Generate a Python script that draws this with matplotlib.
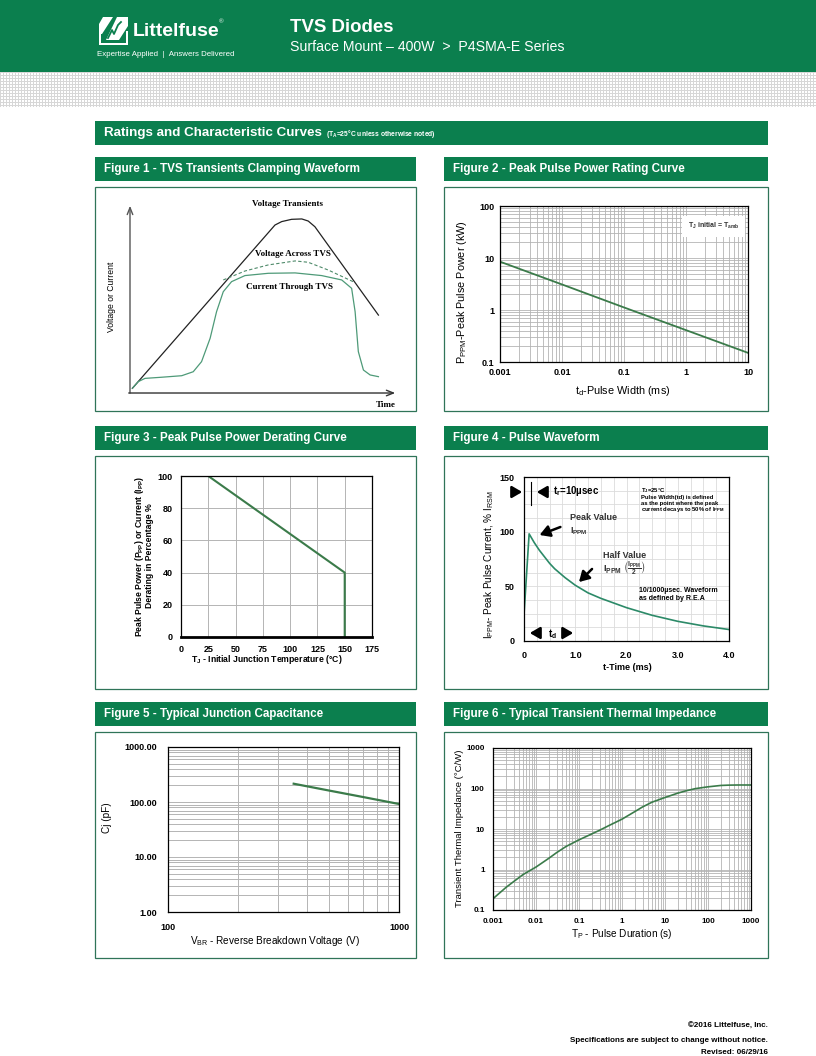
import numpy as np
import matplotlib
matplotlib.use('Agg')
import matplotlib.pyplot as plt
from matplotlib import font_manager
from matplotlib.patches import Rectangle, Polygon
from matplotlib.ticker import LogLocator, NullFormatter, FixedLocator, MultipleLocator, FixedFormatter

# ---------------- data ----------------
# Figure 1 - schematic waveform (arbitrary units: time 0..10, level 0..10)
f1_vt_t = [0.09, 5.41, 5.66, 6.03, 6.41, 6.65, 6.90, 9.27]
f1_vt_v = [0.25, 8.84, 9.02, 9.14, 9.16, 9.05, 8.75, 4.10]
f1_va_t = [3.48, 4.29, 5.16, 6.16, 6.65, 7.40, 8.40]
f1_va_v = [5.95, 6.42, 6.74, 6.95, 6.88, 6.47, 5.81]
f1_ct_t = [0.09, 0.31, 0.56, 1.18, 1.93, 2.36, 2.67, 2.99, 3.23, 3.48, 3.79, 4.29, 5.16,
           6.16, 7.15, 7.90, 8.27, 8.40, 8.52, 8.71, 8.96, 9.27]
f1_ct_v = [0.25, 0.60, 0.77, 0.83, 0.91, 1.12, 1.65, 2.88, 4.28, 5.33, 5.86, 6.18, 6.30,
           6.32, 6.18, 5.95, 5.51, 4.28, 2.18, 1.21, 0.95, 0.86]

# Figure 2 - peak pulse power vs pulse width
f2_width_ms = [0.001, 0.01, 0.1, 1, 10]
f2_power_kw = [8.5, 3.1, 1.12, 0.41, 0.15]
f2_xticks = [0.001, 0.01, 0.1, 1, 10]
f2_xlabels = ['0.001', '0.01', '0.1', '1', '10']
f2_yticks = [0.1, 1, 10, 100]
f2_ylabels = ['0.1', '1', '10', '100']

# Figure 3 - derating curve
f3_temp = [0, 25, 150, 150]
f3_pct = [100, 100, 40, 0]
f3_xticks = [0, 25, 50, 75, 100, 125, 150, 175]
f3_yticks = [0, 20, 40, 60, 80, 100]

# Figure 4 - pulse waveform
f4_t = [0, 0.1, 0.2, 0.3, 0.4, 0.5, 0.6, 0.8, 1.0, 1.25, 1.5, 2.0, 2.5, 3.0, 3.5, 4.0]
f4_i = [24, 98, 90, 83, 77, 71, 66, 58, 51, 44, 39, 30.5, 23.5, 18, 13.8, 10.5]
f4_xticks = [0, 1.0, 2.0, 3.0, 4.0]
f4_xlabels = ['0', '1.0', '2.0', '3.0', '4.0']
f4_yticks = [0, 50, 100, 150]

# Figure 5 - junction capacitance
f5_vbr = [350, 500, 700, 1000]
f5_cj = [215, 161, 123, 92]
f5_yticks = [1, 10, 100, 1000]
f5_ylabels = ['1.00', '10.00', '100.00', '1000.00']
f5_xticks = [100, 1000]
f5_xlabels = ['100', '1000']

# Figure 6 - transient thermal impedance
f6_tp = [0.001, 0.002, 0.003, 0.005, 0.01, 0.02, 0.03, 0.05, 0.1, 0.2, 0.3, 0.5, 1, 2, 3, 5,
         10, 20, 30, 50, 100, 200, 300, 500, 1000]
f6_z = [0.19, 0.36, 0.5, 0.75, 1.15, 1.9, 2.6, 3.7, 5.4, 7.6, 9.3, 12.2, 17.5, 27, 35, 46,
        60, 77, 87, 99, 110, 119, 121, 122, 122]
f6_xticks = [0.001, 0.01, 0.1, 1, 10, 100, 1000]
f6_xlabels = ['0.001', '0.01', '0.1', '1', '10', '100', '1000']
f6_yticks = [0.1, 1, 10, 100, 1000]
f6_ylabels = ['0.1', '1', '10', '100', '1000']

# ---------------- style ----------------
names = {f.name for f in font_manager.fontManager.ttflist}
SANS = 'Liberation Sans' if 'Liberation Sans' in names else 'DejaVu Sans'
SERIF = 'Liberation Serif' if 'Liberation Serif' in names else 'DejaVu Serif'
plt.rcParams['font.family'] = [SANS, 'DejaVu Sans']
plt.rcParams['mathtext.default'] = 'regular'

GREEN = '#0b7f4e'
BORDER = '#2f7458'
CURVE = '#3b7b4a'
GRID = '#b4b4b4'

W, H = 816, 1056
fig = plt.figure(figsize=(8.16, 10.56), dpi=100)


def px_axes(x0, y0, x1, y1, **kw):
    return fig.add_axes([x0 / W, 1 - y1 / H, (x1 - x0) / W, (y1 - y0) / H], **kw)


bg = px_axes(0, 0, W, H)
bg.set_xlim(0, W)
bg.set_ylim(H, 0)
bg.axis('off')

# header
bg.add_patch(Rectangle((0, 0), W, 72, color=GREEN, lw=0))
yy, xx = np.mgrid[0:35, 0:W]
pattern = np.where((yy % 3 == 0) | (xx % 3 == 0), 0.84, 1.0)
bg.imshow(pattern, cmap='gray', vmin=0, vmax=1, extent=[0, W, 107, 72],
          interpolation='nearest', aspect='auto')
# logo icon (white)
bg.add_patch(Polygon([(99, 45), (99, 27), (101, 27), (101, 43), (126, 43), (126, 31), (128, 31), (128, 45)],
                     closed=True, color='white', lw=0))
bg.add_patch(Polygon([(103, 17), (113, 17), (102, 34), (99, 34), (99, 24)], closed=True, color='white', lw=0))
bg.add_patch(Polygon([(117, 17), (128, 17), (128, 26), (119, 40), (106, 40)], closed=True, color='white', lw=0))
bg.plot([108, 112, 114, 118, 121], [38, 30, 34, 25, 22], color=GREEN, lw=1.3)

# section bars and boxes
bg.add_patch(Rectangle((95, 121), 673, 24, color=GREEN, lw=0))
for (x0, y0) in [(95, 157), (444, 157), (95, 426), (444, 426), (95, 702), (444, 702)]:
    bg.add_patch(Rectangle((x0, y0), 324 if x0 == 444 else 321, 24, color=GREEN, lw=0))
for (x0, y0, h) in [(95, 187, 224), (444, 187, 224), (95, 456, 233), (444, 456, 233),
                    (95, 732, 226), (444, 732, 226)]:
    bg.add_patch(Rectangle((x0, y0), 324 if x0 == 444 else 321, h, fill=False, ec=BORDER, lw=0.9))


def style_ticks(ax, size=6.5, pad=3):
    ax.tick_params(which='both', length=0, labelsize=size, pad=pad)
    for lab in ax.get_xticklabels() + ax.get_yticklabels():
        lab.set_fontweight('bold')
    for s in ax.spines.values():
        s.set_color('black')
        s.set_linewidth(0.9)


# ---------------- Figure 1 ----------------
ax1 = px_axes(120, 195, 400, 400)
ax1.set_xlim(-0.373, 10.075)
ax1.set_ylim(-0.368, 10.42)
ax1.axis('off')
ax1.annotate('', xy=(0, 10.0), xytext=(0, -0.15),
             arrowprops=dict(arrowstyle='->,head_width=0.2,head_length=0.5', color='#555555', lw=1.0))
ax1.annotate('', xy=(10.0, 0), xytext=(-0.15, 0),
             arrowprops=dict(arrowstyle='->,head_width=0.2,head_length=0.5', color='#333333', lw=1.0))
ax1.plot(f1_vt_t, f1_vt_v, color='#222222', lw=0.9)
ax1.plot(f1_va_t, f1_va_v, color='#4e8a6a', lw=0.8, ls=(0, (3, 2)))
ax1.plot(f1_ct_t, f1_ct_v, color='#4e9a78', lw=0.9)

# ---------------- Figure 2 ----------------
ax2 = px_axes(500, 206, 748, 362)
ax2.set_xscale('log')
ax2.set_yscale('log')
ax2.set_xlim(0.001, 10)
ax2.set_ylim(0.1, 100)
ax2.xaxis.set_minor_locator(LogLocator(base=10, subs=np.arange(2, 10)))
ax2.yaxis.set_minor_locator(LogLocator(base=10, subs=np.arange(2, 10)))
ax2.xaxis.set_minor_formatter(NullFormatter())
ax2.yaxis.set_minor_formatter(NullFormatter())
ax2.xaxis.set_major_locator(FixedLocator(f2_xticks))
ax2.xaxis.set_major_formatter(FixedFormatter(f2_xlabels))
ax2.yaxis.set_major_locator(FixedLocator(f2_yticks))
ax2.yaxis.set_major_formatter(FixedFormatter(f2_ylabels))
ax2.grid(which='both', color=GRID, lw=0.6)
ax2.set_axisbelow(True)
ax2.plot(f2_width_ms, f2_power_kw, color=CURVE, lw=1.3)
style_ticks(ax2, 6.5, 4)
ax2.text(0.965, 0.87, r'T$_J$ initial = T$_{amb}$', transform=ax2.transAxes, ha='right', va='center',
         fontsize=5.0, fontweight='bold', color='#333333',
         bbox=dict(facecolor='white', edgecolor='none', pad=4))

# ---------------- Figure 3 ----------------
ax3 = px_axes(181, 476, 372, 637)
ax3.set_xlim(0, 175)
ax3.set_ylim(0, 100)
ax3.xaxis.set_major_locator(FixedLocator(f3_xticks))
ax3.yaxis.set_major_locator(FixedLocator(f3_yticks))
ax3.grid(color=GRID, lw=0.7)
ax3.set_axisbelow(True)
ax3.plot(f3_temp, f3_pct, color=CURVE, lw=1.5)
style_ticks(ax3, 6.5, 6)
ax3.spines['bottom'].set_linewidth(2.0)

# ---------------- Figure 4 ----------------
ax4 = px_axes(524, 477, 729, 641)
ax4.set_xlim(0, 4)
ax4.set_ylim(0, 150)
ax4.xaxis.set_major_locator(FixedLocator(f4_xticks))
ax4.xaxis.set_major_formatter(FixedFormatter(f4_xlabels))
ax4.yaxis.set_major_locator(FixedLocator(f4_yticks))
ax4.xaxis.set_minor_locator(MultipleLocator(0.25))
ax4.yaxis.set_minor_locator(MultipleLocator(12.5))
ax4.grid(which='both', color='#dcdcdc', lw=0.6)
ax4.set_axisbelow(True)
ax4.plot(f4_t, f4_i, color='#2c8a68', lw=1.2)
style_ticks(ax4, 6.5, 7)

# ---------------- Figure 5 ----------------
ax5 = px_axes(168, 747, 399, 912)
ax5.set_xscale('log')
ax5.set_yscale('log')
ax5.set_xlim(100, 1000)
ax5.set_ylim(1, 1000)
ax5.xaxis.set_minor_locator(LogLocator(base=10, subs=np.arange(2, 10)))
ax5.yaxis.set_minor_locator(LogLocator(base=10, subs=np.arange(2, 10)))
ax5.xaxis.set_minor_formatter(NullFormatter())
ax5.yaxis.set_minor_formatter(NullFormatter())
ax5.xaxis.set_major_locator(FixedLocator(f5_xticks))
ax5.xaxis.set_major_formatter(FixedFormatter(f5_xlabels))
ax5.yaxis.set_major_locator(FixedLocator(f5_yticks))
ax5.yaxis.set_major_formatter(FixedFormatter(f5_ylabels))
ax5.grid(which='both', color=GRID, lw=0.7)
ax5.set_axisbelow(True)
ax5.plot(f5_vbr, f5_cj, color=CURVE, lw=1.6)
style_ticks(ax5, 6.5, 8)

# ---------------- Figure 6 ----------------
ax6 = px_axes(493, 748, 751, 910)
ax6.set_xscale('log')
ax6.set_yscale('log')
ax6.set_xlim(0.001, 1000)
ax6.set_ylim(0.1, 1000)
ax6.xaxis.set_minor_locator(LogLocator(base=10, subs=np.arange(2, 10)))
ax6.yaxis.set_minor_locator(LogLocator(base=10, subs=np.arange(2, 10)))
ax6.xaxis.set_minor_formatter(NullFormatter())
ax6.yaxis.set_minor_formatter(NullFormatter())
ax6.xaxis.set_major_locator(FixedLocator(f6_xticks))
ax6.xaxis.set_major_formatter(FixedFormatter(f6_xlabels))
ax6.yaxis.set_major_locator(FixedLocator(f6_yticks))
ax6.yaxis.set_major_formatter(FixedFormatter(f6_ylabels))
ax6.grid(which='both', color=GRID, lw=0.6)
ax6.set_axisbelow(True)
ax6.plot(f6_tp, f6_z, color=CURVE, lw=1.2)
style_ticks(ax6, 5.8, 6)

# ---------------- overlay text ----------------
ov = px_axes(0, 0, W, H)
ov.set_xlim(0, W)
ov.set_ylim(H, 0)
ov.axis('off')
ov.patch.set_alpha(0)


def T(x, y, s, size=7, weight='normal', family=None, ha='left', va='center', color='black', rot=0):
    fam = [family or SANS, 'DejaVu Sans']
    ov.text(x, y, s, fontsize=size, fontweight=weight, family=fam, ha=ha, va=va, color=color,
            rotation=rot, rotation_mode='anchor')


# header texts
T(133, 31, 'Littelfuse', 14, 'bold', SANS, color='white')
T(219, 22, '®', 4.5, 'normal', SANS, color='white')
T(97, 55, 'Expertise Applied  |  Answers Delivered', 5.7, 'normal', SANS, color='white')
T(290, 27, 'TVS Diodes', 13.4, 'bold', SANS, color='white')
T(290, 47, 'Surface Mount – 400W  >  P4SMA-E Series', 10.2, 'normal', SANS, color='white')

# section titles
T(104, 133, 'Ratings and Characteristic Curves', 9.6, 'bold', SANS, color='white')
T(326, 134, '(T$_A$=25°C unless otherwise noted)', 4.9, 'bold', SANS, color='white')
T(104, 169, 'Figure 1 - TVS Transients Clamping Waveform', 8.4, 'bold', SANS, color='white')
T(453, 169, 'Figure 2 - Peak Pulse Power Rating Curve', 8.4, 'bold', SANS, color='white')
T(104, 438, 'Figure 3 - Peak Pulse Power Derating Curve', 8.4, 'bold', SANS, color='white')
T(453, 438, 'Figure 4 - Pulse Waveform', 8.4, 'bold', SANS, color='white')
T(104, 714, 'Figure 5 - Typical Junction Capacitance', 8.4, 'bold', SANS, color='white')
T(453, 714, 'Figure 6 - Typical Transient Thermal Impedance', 8.4, 'bold', SANS, color='white')

# Figure 1 labels
T(288, 204, 'Voltage Transients', 6.5, 'bold', SERIF, ha='center')
T(293, 254, 'Voltage Across TVS', 6.5, 'bold', SERIF, ha='center')
T(290, 287, 'Current Through TVS', 6.5, 'bold', SERIF, ha='center')
T(386, 405, 'Time', 6.5, 'bold', SERIF, ha='center')
T(111, 297, 'Voltage or Current', 6.2, 'normal', SANS, ha='center', rot=90)

# Figure 2 labels
T(462, 292, 'P$_{PPM}$-Peak Pulse Power (kW)', 7.8, 'normal', SANS, ha='center', rot=90)
T(623, 391, 't$_d$-Pulse Width (ms)', 7.8, 'normal', SANS, ha='center')

# Figure 3 labels
T(140, 556, 'Peak Pulse Power (P$_{PP}$) or Current (I$_{PP}$)', 6.2, 'bold', SANS, ha='center', rot=90)
T(150, 556, 'Derating in Percentage %', 6.2, 'bold', SANS, ha='center', rot=90)
T(267, 659, 'T$_J$ - Initial Junction Temperature (°C)', 6.2, 'bold', SANS, ha='center')

# Figure 4 labels
T(489, 565, 'I$_{PPM}$- Peak Pulse Current, % I$_{RSM}$', 7.2, 'normal', SANS, ha='center', rot=90)
T(627, 667, 't-Time (ms)', 6.5, 'bold', SANS, ha='center')
T(553, 491, 't$_r$=10µsec', 7, 'bold', SANS)
ov.plot([531, 531], [482, 505], color='black', lw=0.8)
T(641, 491, 'T$_J$=25°C', 4.2, 'bold', SANS)
T(641, 497, 'Pulse Width(td) is defined', 4.2, 'bold', SANS)
T(641, 503, 'as the point where the peak', 4.2, 'bold', SANS)
T(641, 509, 'current decays to 50% of I$_{PPM}$', 4.2, 'bold', SANS)
T(570, 517, 'Peak Value', 6.5, 'bold', SANS, color='#333333')
T(570, 531, 'I$_{PPM}$', 6.5, 'bold', SANS, color='#333333')
T(603, 555, 'Half Value', 6.5, 'bold', SANS, color='#333333')
T(603, 568, r'I$_{PPM}$ $\left(\frac{I_{PPM}}{2}\right)$', 6.8, 'bold', SANS, color='#333333')
T(639, 591, '10/1000µsec. Waveform', 5, 'bold', SANS)
T(639, 599, 'as defined by R.E.A', 5, 'bold', SANS)
T(548, 634, 't$_d$', 7, 'bold', SANS)
arrow = dict(arrowstyle='-|>,head_width=0.35,head_length=0.6', color='black', lw=1.8)
ov.annotate('', xy=(525, 492), xytext=(510, 492), arrowprops=arrow)
ov.annotate('', xy=(534, 492), xytext=(548, 492), arrowprops=arrow)
ov.annotate('', xy=(537, 536), xytext=(563, 526), arrowprops=arrow)
ov.annotate('', xy=(577, 584), xytext=(594, 567), arrowprops=arrow)
ov.annotate('', xy=(527, 633), xytext=(542, 633), arrowprops=arrow)
ov.annotate('', xy=(576, 633), xytext=(562, 633), arrowprops=arrow)

# Figure 5 labels
T(107, 818, 'Cj (pF)', 7.2, 'normal', SANS, ha='center', rot=90)
T(275, 941, 'V$_{BR}$ - Reverse Breakdown Voltage (V)', 7.2, 'normal', SANS, ha='center')

# Figure 6 labels
T(460, 828, 'Transient Thermal Impedance (°C/W)', 6.8, 'normal', SANS, ha='center', rot=90)
T(622, 934, 'T$_P$ - Pulse Duration (s)', 7.2, 'normal', SANS, ha='center')

# footer
T(768, 1026, '©2016 Littelfuse, Inc.', 5.8, 'bold', SANS, ha='right')
T(768, 1040, 'Specifications are subject to change without notice.', 5.8, 'bold', SANS, ha='right')
T(768, 1053, 'Revised: 06/29/16', 5.8, 'bold', SANS, ha='right')

fig.savefig('out.png', dpi=100)
